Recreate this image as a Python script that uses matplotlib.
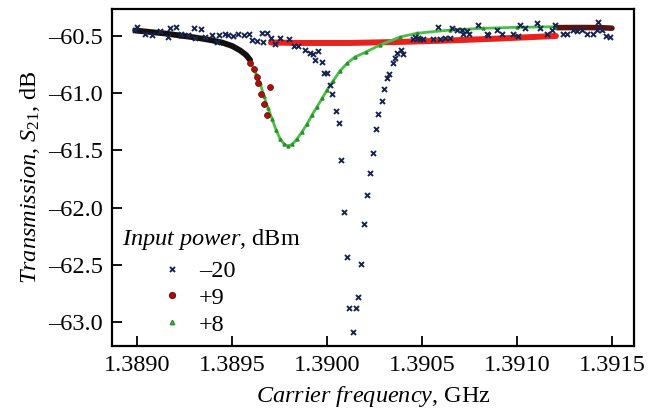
"""Transmission S21 vs carrier frequency for three input powers."""

import matplotlib

matplotlib.use("Agg")
import matplotlib.pyplot as plt
from matplotlib.lines import Line2D
from matplotlib.ticker import FuncFormatter, MultipleLocator

NAVY = "#16244e"
RED = "#e8211c"
DARK_RED = "#a8120e"
TAIL = "#5a1410"
BLACK = "#141010"
GREEN = "#48c048"
GREEN_DARK = "#2a8f2a"

# -20 dBm: individual points
freq_m20 = [
    1.389000, 1.388990, 1.389042, 1.389081, 1.389120, 1.389162, 1.389174, 1.389204,
    1.389232, 1.389270, 1.389298, 1.389305, 1.389337, 1.389358, 1.389396, 1.389419,
    1.389432, 1.389463, 1.389477, 1.389507, 1.389533, 1.389565, 1.389589, 1.389607,
    1.389630, 1.389656, 1.389665, 1.389683, 1.389705, 1.389726, 1.389754, 1.389800,
    1.389825, 1.389849, 1.389884, 1.389910, 1.389928, 1.389937, 1.389951, 1.389972,
    1.389986, 1.389998, 1.390016, 1.390028, 1.390046, 1.390063, 1.390074, 1.390089,
    1.390107, 1.390117, 1.390135, 1.390153, 1.390165, 1.390180, 1.390196, 1.390210,
    1.390225, 1.390242, 1.390256, 1.390270, 1.390288, 1.390300, 1.390317, 1.390328,
    1.390346, 1.390359, 1.390368, 1.390389, 1.390402, 1.390454, 1.390463, 1.390480,
    1.390489, 1.390507, 1.390559, 1.390586, 1.390595, 1.390621, 1.390647, 1.390656,
    1.390683, 1.390709, 1.390717, 1.390735, 1.390747, 1.390796, 1.390840, 1.390849,
    1.390893, 1.390919, 1.390980, 1.391007, 1.391016, 1.391042, 1.391104, 1.391121,
    1.391156, 1.391183, 1.391200, 1.391244, 1.391262, 1.391296, 1.391314, 1.391340,
    1.391367, 1.391402, 1.391419, 1.391428, 1.391446, 1.391468, 1.391489,
]
s21_m20 = [
    -60.42, -60.45, -60.48, -60.49, -60.46, -60.51, -60.43, -60.42,
    -60.48, -60.49, -60.43, -60.52, -60.44, -60.51, -60.49, -60.55,
    -60.49, -60.48, -60.49, -60.50, -60.48, -60.49, -60.48, -60.535,
    -60.54, -60.47, -60.55, -60.47, -60.52, -60.57, -60.515, -60.53,
    -60.59, -60.59, -60.62, -60.65, -60.66, -60.71, -60.63, -60.725,
    -60.82, -60.82, -60.93, -61.01, -61.16, -61.26, -61.58, -62.04,
    -62.43, -62.88, -63.09, -62.88, -62.78, -62.49, -62.14, -61.89,
    -61.70, -61.52, -61.31, -61.18, -61.07, -60.96, -60.865, -60.83,
    -60.74, -60.69, -60.65, -60.62, -60.66, -60.53, -60.51, -60.515,
    -60.53, -60.53, -60.53, -60.42, -60.53, -60.515, -60.52, -60.43,
    -60.45, -60.45, -60.48, -60.46, -60.48, -60.40, -60.48, -60.49,
    -60.45, -60.48, -60.48, -60.50, -60.40, -60.43, -60.39, -60.43,
    -60.48, -60.45, -60.40, -60.48, -60.48, -60.45, -60.46, -60.45,
    -60.48, -60.48, -60.45, -60.38, -60.45, -60.50, -60.51,
]

# +9 dBm: dense low-frequency branch, jump circles, upper branch, tail
freq_p9_low = [1.388990, 1.389068, 1.389147, 1.389226, 1.389305, 1.389384,
               1.389447, 1.389500, 1.389542, 1.389574, 1.389595]
s21_p9_low = [-60.452, -60.465, -60.478, -60.496, -60.513, -60.535,
              -60.557, -60.587, -60.626, -60.666, -60.710]
freq_p9_drop = [1.389597, 1.389616, 1.389629, 1.389638, 1.389654, 1.389669,
                1.389685, 1.389700]
s21_p9_drop = [-60.732, -60.793, -60.856, -60.913, -61.004, -61.092,
               -61.189, -60.943]
freq_p9_high = [1.389705, 1.389858, 1.390121, 1.390384, 1.390647, 1.390910, 1.391205]
s21_p9_high = [-60.557, -60.561, -60.561, -60.552, -60.539, -60.522, -60.500]
freq_p9_tail = [1.391210, 1.391332, 1.391437, 1.391500]
s21_p9_tail = [-60.427, -60.426, -60.427, -60.432]

# +8 dBm
freq_p8 = [
    1.388990, 1.389068, 1.389147, 1.389226, 1.389305, 1.389384, 1.389447, 1.389500,
    1.389542, 1.389574, 1.389595, 1.389626, 1.389647, 1.389668, 1.389689, 1.389711,
    1.389732, 1.389753, 1.389774, 1.389795, 1.389816, 1.389842, 1.389868, 1.389895,
    1.389921, 1.389947, 1.389974, 1.390000, 1.390032, 1.390068, 1.390105, 1.390147,
    1.390205, 1.390279, 1.390384, 1.390474, 1.390647, 1.390821, 1.391000, 1.391200,
]
s21_p8 = [
    -60.452, -60.465, -60.478, -60.496, -60.513, -60.535, -60.557, -60.587,
    -60.626, -60.666, -60.710, -60.832, -60.911, -61.024, -61.129, -61.226,
    -61.322, -61.400, -61.444, -61.462, -61.448, -61.400, -61.339, -61.269,
    -61.191, -61.121, -61.046, -60.972, -60.893, -60.806, -60.740, -60.684,
    -60.640, -60.579, -60.509, -60.476, -60.448, -60.433, -60.424, -60.419,
]

legend_labels = ["\u201320", "+9", "+8"]

plt.rcParams.update({
    "font.family": "Liberation Serif",
    "mathtext.fontset": "custom",
    "mathtext.rm": "Liberation Serif",
    "mathtext.it": "Liberation Serif:italic",
    "font.size": 17.5,
    "axes.linewidth": 1.6,
})

fig = plt.figure(figsize=(6.53, 4.12), dpi=100)
ax = fig.add_axes([0.1715, 0.1602, 0.7994, 0.8180])

# +9 upper branch and tail
ax.plot(freq_p9_high, s21_p9_high, color=RED, lw=4.3, solid_capstyle="round", zorder=2)
ax.plot(freq_p9_tail, s21_p9_tail, color=TAIL, lw=4.0, solid_capstyle="round", zorder=2)

# +8 curve
ax.plot(freq_p8, s21_p8, color=GREEN, lw=2.0, marker="^", ms=2.2,
        mfc=GREEN_DARK, mec=GREEN_DARK, zorder=3)

# +9 low branch (dense, appears black) and jump circles
ax.plot(freq_p9_low, s21_p9_low, color=BLACK, lw=4.2, solid_capstyle="round", zorder=4)
ax.plot(freq_p9_drop, s21_p9_drop, ls="none", marker="o", ms=4.2,
        mfc=DARK_RED, mec="#7e0c0a", mew=0.6, zorder=4)

# -20 dBm points
ax.plot(freq_m20, s21_m20, ls="none", marker="x", ms=3.6, mew=1.4,
        color=NAVY, zorder=5)

ax.set_xlim(1.388868, 1.391616)
ax.set_ylim(-63.21, -60.264)
ax.xaxis.set_major_locator(MultipleLocator(0.0005))
ax.yaxis.set_major_locator(MultipleLocator(0.5))
ax.xaxis.set_major_formatter(FuncFormatter(lambda v, _: f"{v:.4f}"))
ax.yaxis.set_major_formatter(FuncFormatter(lambda v, _: f"{v:.1f}".replace("-", "\u2013")))
ax.tick_params(direction="in", length=7, width=1.3, pad=6.5, labelsize=17.5)
for side in ("top", "right"):
    ax.spines[side].set_linewidth(1.6)

ax.set_xlabel(r"$\it{Carrier\ frequency}$, GHz", fontsize=17.5, labelpad=6)
ax.set_ylabel(r"$\it{Transmission}$, $S_{21}$, dB", fontsize=17.5, labelpad=4)

ax.text(0.019, 0.315, r"$\it{Input\ power}$, dBm", transform=ax.transAxes,
        ha="left", va="center", fontsize=17.5)
handles = [
    Line2D([], [], ls="none", marker="x", ms=3.6, mew=1.4, color=NAVY),
    Line2D([], [], ls="none", marker="o", ms=4.2, mfc=DARK_RED, mec="#7e0c0a"),
    Line2D([], [], ls="none", marker="^", ms=3.2, mfc=GREEN, mec=GREEN_DARK),
]
ax.legend(handles, legend_labels, loc="upper left", bbox_to_anchor=(0.092, 0.255),
          frameon=False, borderpad=0, borderaxespad=0, handlelength=1.0,
          handletextpad=0.6, labelspacing=0.2, fontsize=17.5)

fig.savefig("out.png", dpi=100)
